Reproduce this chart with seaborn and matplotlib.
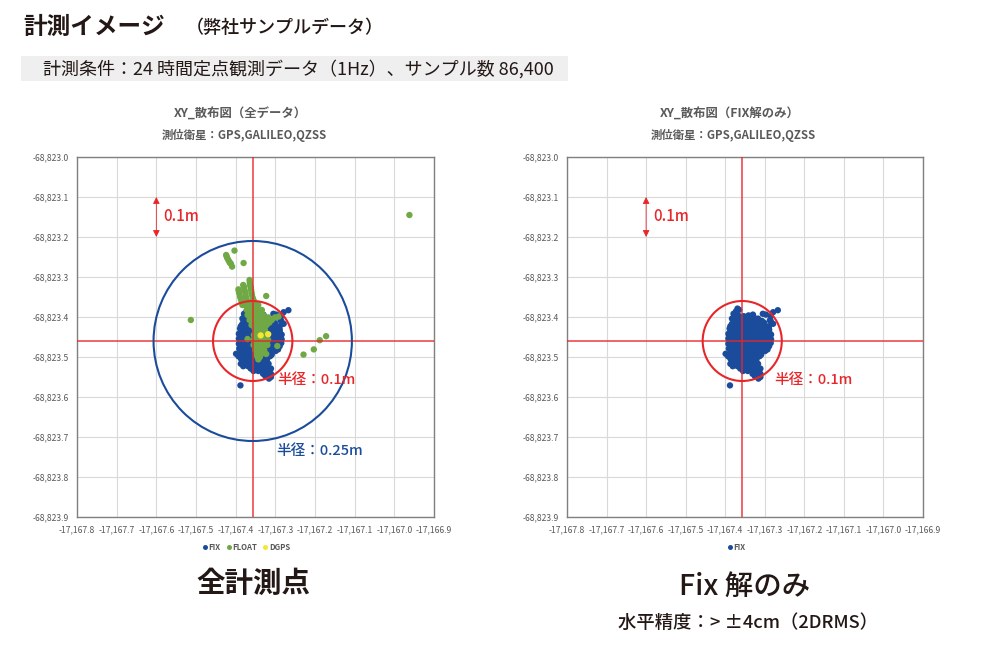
"""XY scatter of a 24 h fixed-point positioning log, all points vs. FIX only."""
import matplotlib.pyplot as plt
import numpy as np
import pandas as pd
import seaborn as sns
from matplotlib.patches import Circle, Rectangle

WIDTH, HEIGHT = 981, 657
BLUE = "#1b4c9c"
GREEN = "#6fa844"
YELLOW = "#f5e636"
RED = "#e8262a"
GRAY = "#595959"

center_x = -17167.357
center_y = -68823.46

x_ticks = [-17167.8, -17167.7, -17167.6, -17167.5, -17167.4,
           -17167.3, -17167.2, -17167.1, -17167.0, -17166.9]
y_ticks = [-68823.9, -68823.8, -68823.7, -68823.6, -68823.5,
           -68823.4, -68823.3, -68823.2, -68823.1, -68823.0]

# offsets from the crosshair in metres
fix_dx = [-0.012, -0.008,
          -0.022, -0.012, 0.016, 0.027, 0.052, 0.078, 0.090,
          -0.026, -0.014, -0.002, 0.010, 0.022, 0.034, 0.040, 0.070,
          -0.026, -0.014, -0.002, 0.010, 0.022, 0.034, 0.046, 0.056, 0.078,
          -0.032, -0.020, -0.008, 0.004, 0.016, 0.028, 0.040, 0.052, 0.068,
          -0.035, -0.023, -0.010, 0.002, 0.015, 0.028, 0.040, 0.052, 0.065, 0.073,
          -0.035, -0.023, -0.010, 0.002, 0.015, 0.028, 0.040, 0.052, 0.065, 0.073,
          -0.035, -0.023, -0.010, 0.002, 0.015, 0.028, 0.040, 0.052, 0.065, 0.072,
          -0.034, -0.023, -0.010, 0.002, 0.015, 0.028, 0.040, 0.052, 0.064,
          -0.042, -0.030, -0.018, -0.006, 0.006, 0.018, 0.030, 0.040, 0.048,
          -0.030, -0.018, -0.006, 0.006, 0.018, 0.030, 0.036,
          -0.030, -0.018, -0.006, 0.006, 0.018, 0.030, 0.040,
          -0.005, 0.008, 0.020, 0.032, 0.046,
          0.026, 0.036, 0.046,
          0.041, 0.046,
          -0.031,
          -0.016,
          -0.020, -0.008, 0.004, 0.016, 0.028, 0.060, 0.072,
          -0.020, -0.008, 0.004, 0.016, 0.028, 0.040, 0.050, 0.072,
          -0.030, -0.018, -0.006, 0.006, 0.018, 0.030, 0.042, 0.056, 0.068,
          -0.029, -0.017, -0.005, 0.008, 0.021, 0.034, 0.046, 0.058, 0.068,
          -0.029, -0.017, -0.005, 0.008, 0.021, 0.034, 0.046, 0.058, 0.068,
          -0.029, -0.017, -0.005, 0.008, 0.021, 0.034, 0.046, 0.058, 0.068,
          -0.029, -0.017, -0.005, 0.008, 0.021, 0.034, 0.046, 0.058, 0.068,
          -0.029, -0.017, -0.005, 0.008, 0.021, 0.034, 0.046, 0.058,
          -0.036, -0.024, -0.012, 0.000, 0.012, 0.024, 0.036, 0.044,
          -0.024, -0.012, 0.000, 0.012, 0.024, 0.034,
          -0.024, -0.012, 0.000, 0.012, 0.024, 0.036,
          0.002, 0.014, 0.026, 0.040,
          0.032, 0.042]
fix_dy = [0.081, 0.078,
          0.068, 0.066, 0.064, 0.066, 0.068, 0.072, 0.077,
          0.056, 0.056, 0.056, 0.056, 0.056, 0.054, 0.056, 0.052,
          0.043, 0.043, 0.043, 0.043, 0.043, 0.043, 0.041, 0.045, 0.043,
          0.031, 0.031, 0.031, 0.031, 0.031, 0.031, 0.031, 0.031, 0.029,
          0.018, 0.018, 0.018, 0.018, 0.018, 0.018, 0.018, 0.018, 0.018, 0.016,
          0.006, 0.006, 0.006, 0.006, 0.006, 0.006, 0.006, 0.006, 0.006, 0.004,
          -0.007, -0.007, -0.007, -0.007, -0.007, -0.007, -0.007, -0.007, -0.007, -0.005,
          -0.019, -0.019, -0.019, -0.019, -0.019, -0.019, -0.019, -0.019, -0.021,
          -0.032, -0.032, -0.032, -0.032, -0.032, -0.032, -0.032, -0.032, -0.034,
          -0.044, -0.044, -0.044, -0.044, -0.044, -0.044, -0.046,
          -0.057, -0.057, -0.057, -0.057, -0.057, -0.057, -0.057,
          -0.069, -0.069, -0.069, -0.069, -0.069,
          -0.082, -0.082, -0.082,
          -0.094, -0.090,
          -0.111,
          0.074,
          0.062, 0.062, 0.062, 0.062, 0.062, 0.066, 0.062,
          0.050, 0.050, 0.050, 0.050, 0.050, 0.050, 0.050, 0.050,
          0.037, 0.037, 0.037, 0.037, 0.037, 0.037, 0.037, 0.037, 0.037,
          0.024, 0.024, 0.024, 0.024, 0.024, 0.024, 0.024, 0.024, 0.024,
          0.012, 0.012, 0.012, 0.012, 0.012, 0.012, 0.012, 0.012, 0.012,
          0.000, 0.000, 0.000, 0.000, 0.000, 0.000, 0.000, 0.000, 0.000,
          -0.013, -0.013, -0.013, -0.013, -0.013, -0.013, -0.013, -0.013, -0.013,
          -0.025, -0.025, -0.025, -0.025, -0.025, -0.025, -0.025, -0.025,
          -0.038, -0.038, -0.038, -0.038, -0.038, -0.038, -0.038, -0.038,
          -0.050, -0.050, -0.050, -0.050, -0.050, -0.050,
          -0.063, -0.063, -0.063, -0.063, -0.063, -0.063,
          -0.075, -0.075, -0.075, -0.075,
          -0.088, -0.088]

float_dx = [0.395, -0.156, 0.185, 0.169, 0.154, 0.128, 0.034, 0.062, 0.034, -0.013,
            -0.046, -0.023,
            -0.067, -0.064, -0.059, -0.055, -0.052,
            -0.036, -0.034, -0.032, -0.028,
            -0.024, -0.021, -0.018, -0.015,
            -0.008, -0.007, -0.004, -0.002, 0.002,
            -0.019, -0.006, 0.006, 0.014,
            -0.015, -0.003, 0.010, 0.023,
            -0.013, -0.001, 0.012, 0.027,
            -0.008, 0.006, 0.018, 0.035, 0.048, 0.056, 0.065,
            -0.003, 0.010, 0.023, 0.035,
            0.006, 0.018, 0.031,
            0.003, 0.016, 0.029,
            0.002, 0.014, 0.027, 0.039,
            0.002, 0.014, 0.027, 0.037,
            0.006, 0.018, 0.029,
            0.010, 0.020,
            0.014,
            -0.0655, -0.0615, -0.057,
            -0.035, -0.030, -0.026, -0.022, -0.019, -0.017, -0.013,
            -0.0075, -0.005, -0.003, 0.000, 0.005,
            -0.013, 0.000, 0.010,
            -0.009, 0.005, 0.019,
            -0.005, 0.009, 0.023, 0.040,
            0.002, 0.016, 0.029, 0.042,
            0.004, 0.016, 0.028,
            0.010, 0.024,
            0.008, 0.022, 0.033,
            0.008, 0.020, 0.033,
            0.010, 0.024,
            0.012, 0.024,
            0.012, 0.018]
float_dy = [0.315, 0.0525, 0.012, 0.002, -0.021, -0.034, 0.1125, -0.0125, -0.0325, 0.005,
            0.226, 0.195,
            0.215, 0.207, 0.198, 0.193, 0.186,
            0.129, 0.119, 0.111, 0.098,
            0.140, 0.129, 0.118, 0.103,
            0.1525, 0.140, 0.1275, 0.115, 0.1025,
            0.090, 0.090, 0.090, 0.090,
            0.0775, 0.0775, 0.0775, 0.0775,
            0.065, 0.065, 0.065, 0.065,
            0.0525, 0.0525, 0.0525, 0.0525, 0.0525, 0.059, 0.061,
            0.040, 0.040, 0.040, 0.040,
            0.0275, 0.0275, 0.0275,
            0.015, 0.015, 0.015,
            0.0025, 0.0025, 0.0025, 0.0025,
            -0.010, -0.010, -0.010, -0.010,
            -0.0225, -0.0225, -0.0225,
            -0.035, -0.035,
            -0.046,
            0.211, 0.2025, 0.195,
            0.124, 0.105, 0.090, 0.135, 0.123, 0.110, 0.095,
            0.146, 0.134, 0.121, 0.108, 0.096,
            0.084, 0.084, 0.084,
            0.071, 0.071, 0.071,
            0.059, 0.059, 0.059, 0.059,
            0.046, 0.046, 0.046, 0.046,
            0.034, 0.034, 0.034,
            0.021, 0.021,
            0.009, 0.009, 0.009,
            -0.004, -0.004, -0.004,
            -0.016, -0.016,
            -0.029, -0.029,
            -0.040, -0.040]

dgps_dx = [0.020, 0.039]
dgps_dy = [0.014, 0.017]


def frame(kind, dx, dy):
    return pd.DataFrame({
        "x": center_x + np.array(dx),
        "y": center_y + np.array(dy),
        "kind": kind,
    })


def px_axes(fig, left, right, top, bottom):
    return fig.add_axes([left / WIDTH, 1 - bottom / HEIGHT,
                         (right - left) / WIDTH, (bottom - top) / HEIGHT])


def px_text(fig, x, y, s, **kw):
    kw.setdefault("ha", "left")
    kw.setdefault("va", "center")
    fig.text(x / WIDTH, 1 - y / HEIGHT, s, **kw)


def draw_panel(ax, data, palette, legend_x):
    sns.scatterplot(data=data, x="x", y="y", hue="kind", palette=palette,
                    s=21, linewidth=0, ax=ax, zorder=3)
    ax.set_xlim(x_ticks[0], x_ticks[-1])
    ax.set_ylim(y_ticks[0], y_ticks[-1])
    ax.set_xticks(x_ticks, [f"{v:,.1f}" for v in x_ticks])
    ax.set_yticks(y_ticks, [f"{v:,.1f}" for v in y_ticks])
    ax.tick_params(labelsize=6.2, labelcolor=GRAY, length=0, pad=6)
    ax.set_xlabel("")
    ax.set_ylabel("")
    ax.grid(color="#d9d9d9", linewidth=0.8)
    for spine in ax.spines.values():
        spine.set_color("#808080")
        spine.set_linewidth(1.0)

    ax.axvline(center_x, color=RED, linewidth=1.1, alpha=0.9, zorder=4)
    ax.axhline(center_y, color=RED, linewidth=1.1, alpha=0.9, zorder=4)
    ax.add_patch(Circle((center_x, center_y), 0.1, fill=False, edgecolor=RED,
                        linewidth=1.5, zorder=5))

    # scale arrow between the -68,823.1 and -68,823.2 grid lines
    ax.annotate("", xy=(-17167.6, -68823.1), xytext=(-17167.6, -68823.2),
                arrowprops=dict(arrowstyle="<|-|>", color=RED, linewidth=0.6,
                                mutation_scale=10, shrinkA=0, shrinkB=0), zorder=6)
    ax.text(-17167.583, -68823.148, "0.1m", color=RED, fontsize=10.8, va="center",
            fontweight="medium")

    handles, labels = ax.get_legend_handles_labels()
    for handle in handles:
        handle.set_markersize(3.6)
    ax.legend(handles, labels, loc="center", bbox_to_anchor=(legend_x, -0.084),
              ncol=3, frameon=False, labelcolor=GRAY,
              prop={"size": 5.6, "weight": "bold"},
              handlelength=0.8, handletextpad=0.1, columnspacing=0.6, borderpad=0)


sns.set_theme(style="whitegrid")
plt.rcParams["font.family"] = ["Noto Sans CJK JP", "DejaVu Sans"]

fig = plt.figure(figsize=(WIDTH / 100, HEIGHT / 100), dpi=100, facecolor="white")

fig.add_artist(Rectangle((21 / WIDTH, 1 - 81 / HEIGHT), 547 / WIDTH, 25 / HEIGHT,
                         transform=fig.transFigure, facecolor="#efefef", edgecolor="none"))
px_text(fig, 23, 27, "計測イメージ", fontsize=17, fontweight="bold", color="#231815")
px_text(fig, 186, 28, "（弊社サンプルデータ）", fontsize=13, fontweight="medium", color="#231815")
px_text(fig, 43, 69, "計測条件：24 時間定点観測データ（1Hz）、サンプル数 86,400",
        fontsize=13, color="#231815")

all_points = pd.concat([frame("FIX", fix_dx, fix_dy),
                        frame("FLOAT", float_dx, float_dy),
                        frame("DGPS", dgps_dx, dgps_dy)], ignore_index=True)
fix_points = frame("FIX", fix_dx, fix_dy)

ax_all = px_axes(fig, 77, 434, 157, 517)
draw_panel(ax_all, all_points, {"FIX": BLUE, "FLOAT": GREEN, "DGPS": YELLOW}, 0.473)
ax_all.add_patch(Circle((center_x, center_y), 0.25, fill=False, edgecolor=BLUE,
                        linewidth=1.5, zorder=5))
ax_all.text(-17167.294, -68823.558, "半径：0.1m", color=RED, fontsize=10.5,
            va="center", fontweight="medium", zorder=7)
ax_all.text(-17167.297, -68823.735, "半径：0.25m", color=BLUE, fontsize=10.5,
            va="center", fontweight="medium", zorder=7)

ax_fix = px_axes(fig, 567, 923, 157, 517)
draw_panel(ax_fix, fix_points, {"FIX": BLUE}, 0.475)
ax_fix.text(-17167.275, -68823.558, "半径：0.1m", color=RED, fontsize=10.5,
            va="center", fontweight="medium", zorder=7)

for cx, cx2, first in ((240, 244, "XY_散布図（全データ）"), (730, 733.5, "XY_散布図（FIX解のみ）")):
    px_text(fig, cx, 114, first, ha="center", fontsize=8.9, fontweight="bold", color=GRAY)
    px_text(fig, cx2, 135, "測位衛星：GPS,GALILEO,QZSS", ha="center", fontsize=8.2,
            fontweight="bold", color=GRAY)

px_text(fig, 253, 584, "全計測点", ha="center", fontsize=20.5, fontweight="bold", color="#231815")
px_text(fig, 745, 586, "Fix 解のみ", ha="center", fontsize=20.5, fontweight="medium", color="#231815")
px_text(fig, 748, 623, "水平精度：> ±4cm（2DRMS）", ha="center", fontsize=13.2,
        fontweight="medium", color="#231815")

fig.savefig("out.png", dpi=100)
